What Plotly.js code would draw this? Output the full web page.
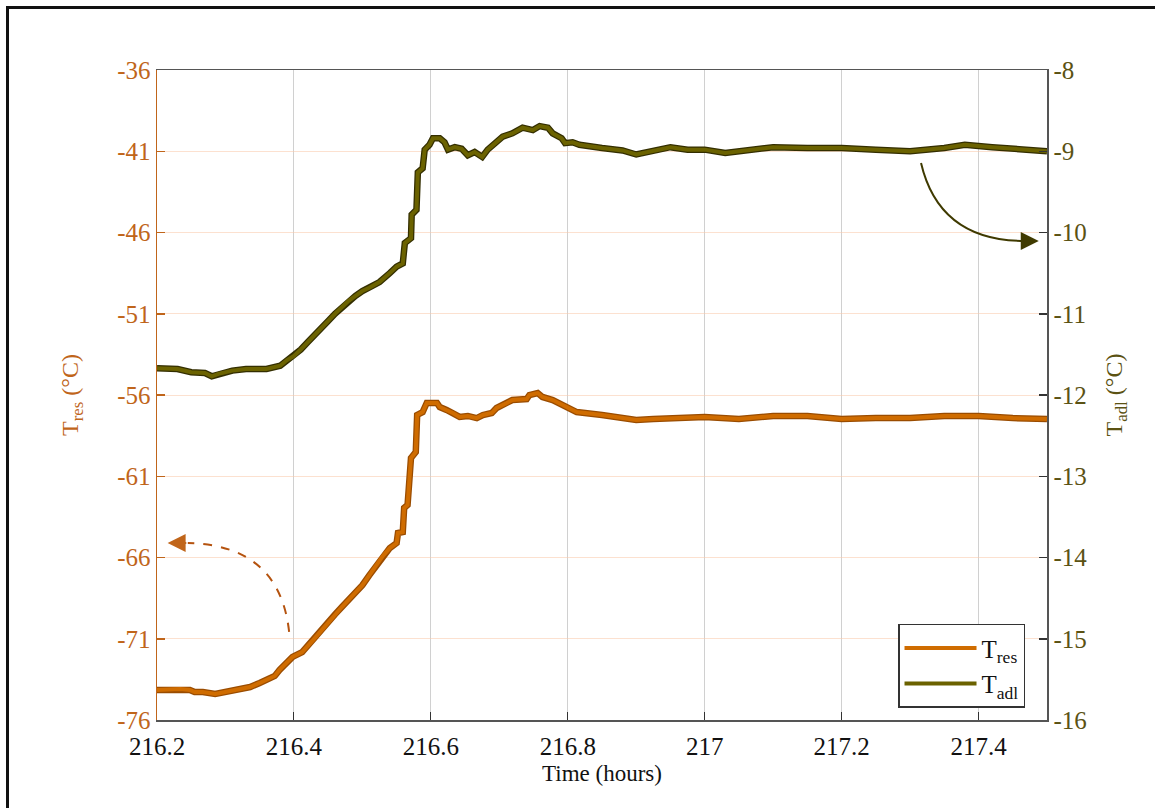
<!DOCTYPE html>
<html>
<head>
<meta charset="utf-8">
<script src="https://cdn.plot.ly/plotly-3.0.1.min.js"></script>
<style>
html,body{margin:0;padding:0;background:#fff;}
#wrap{position:relative;width:1155px;height:808px;}
#frame{position:absolute;left:6px;top:6px;width:1149px;height:802px;border-left:3px solid #111;border-top:3px solid #111;box-sizing:border-box;pointer-events:none;z-index:5;}
#chart{position:absolute;left:0;top:0;width:1155px;height:808px;}
</style>
</head>
<body>
<div id="wrap"><div id="chart"></div><div id="frame"></div></div>
<script>
// ---- data ----
const tresTime = [216.200,216.234,216.248,216.255,216.267,216.285,216.307,216.321,216.336,216.350,216.360,216.372,216.379,216.390,216.398,216.412,216.423,216.428,216.440,216.450,216.460,216.470,216.480,216.490,216.500,216.510,216.520,216.525,216.530,216.540,216.550,216.552,216.559,216.561,216.566,216.571,216.578,216.580,216.588,216.594,216.609,216.613,216.623,216.632,216.642,216.654,216.667,216.676,216.689,216.696,216.711,216.719,216.740,216.744,216.756,216.763,216.778,216.792,216.803,216.813,216.850,216.880,216.900,216.925,216.950,216.975,217.000,217.050,217.100,217.150,217.200,217.250,217.300,217.350,217.400,217.450,217.500];
const tresVal = [-74.15,-74.09,-74.15,-74.28,-74.28,-74.40,-74.22,-74.09,-73.97,-73.72,-73.54,-73.29,-72.92,-72.49,-72.12,-71.82,-71.26,-71.08,-70.50,-70.00,-69.50,-69.05,-68.60,-68.15,-67.70,-67.10,-66.50,-66.15,-65.90,-65.42,-65.11,-64.49,-64.43,-62.95,-62.77,-59.88,-59.51,-57.23,-57.05,-56.49,-56.49,-56.74,-56.92,-57.11,-57.35,-57.29,-57.42,-57.23,-57.11,-56.80,-56.49,-56.31,-56.25,-56.00,-55.88,-56.12,-56.31,-56.62,-56.80,-57.05,-57.23,-57.45,-57.54,-57.48,-57.42,-57.38,-57.35,-57.48,-57.29,-57.29,-57.48,-57.42,-57.42,-57.29,-57.29,-57.42,-57.48];

const tadlTime = [216.200,216.230,216.250,216.270,216.280,216.290,216.310,216.330,216.360,216.380,216.390,216.400,216.410,216.420,216.430,216.440,216.450,216.460,216.470,216.480,216.490,216.500,216.510,216.525,216.540,216.550,216.559,216.562,216.571,216.572,216.579,216.581,216.588,216.591,216.598,216.603,216.613,216.620,216.625,216.635,216.645,216.654,216.664,216.675,216.683,216.693,216.705,216.719,216.734,216.749,216.759,216.771,216.778,216.791,216.796,216.807,216.817,216.850,216.880,216.900,216.925,216.950,216.975,217.000,217.030,217.050,217.100,217.150,217.200,217.250,217.300,217.350,217.380,217.420,217.450,217.500];
const tadlVal = [-11.67,-11.68,-11.72,-11.73,-11.77,-11.74,-11.70,-11.68,-11.68,-11.64,-11.57,-11.52,-11.44,-11.35,-11.27,-11.18,-11.09,-11.00,-10.92,-10.84,-10.78,-10.72,-10.68,-10.61,-10.50,-10.42,-10.38,-10.13,-10.07,-9.78,-9.72,-9.26,-9.21,-8.98,-8.92,-8.84,-8.84,-8.89,-8.98,-8.95,-8.97,-9.05,-9.01,-9.07,-8.98,-8.90,-8.82,-8.78,-8.71,-8.74,-8.69,-8.71,-8.78,-8.84,-8.90,-8.89,-8.92,-8.96,-8.99,-9.04,-9.00,-8.95,-8.98,-8.98,-9.02,-9.00,-8.95,-8.96,-8.96,-8.98,-9.00,-8.96,-8.92,-8.95,-8.97,-9.00];

const xTicks = [216.2,216.4,216.6,216.8,217,217.2,217.4];
const xTickText = ['216.2','216.4','216.6','216.8','217','217.2','217.4'];
const leftTicks = [-36,-41,-46,-51,-56,-61,-66,-71,-76];
const rightTicks = [-8,-9,-10,-11,-12,-13,-14,-15,-16];

// ---- styling ----
const ORANGE = '#cf6c00', ORANGE_EDGE = '#9a4c00';
const OLIVE = '#6b6200', OLIVE_EDGE = '#332e00';
const AXIS_OR = '#c0651a', AXIS_OL = '#5b5213';
const FONT = 'Liberation Serif, Times New Roman, serif';
const FS = 25;

const traces = [
  {x: tresTime, y: tresVal, type:'scatter', mode:'lines', yaxis:'y', showlegend:false, hoverinfo:'skip',
   line:{color:ORANGE_EDGE, width:6.5}},
  {x: tresTime, y: tresVal, type:'scatter', mode:'lines', yaxis:'y', name:'T<sub>res</sub>',
   line:{color:ORANGE, width:4}},
  {x: tadlTime, y: tadlVal, type:'scatter', mode:'lines', yaxis:'y2', showlegend:false, hoverinfo:'skip',
   line:{color:OLIVE_EDGE, width:6.5}},
  {x: tadlTime, y: tadlVal, type:'scatter', mode:'lines', yaxis:'y2', name:'T<sub>adl</sub>',
   line:{color:OLIVE, width:4}}
];

const layout = {
  width:1155, height:808,
  margin:{l:157, r:108, t:70, b:88},
  paper_bgcolor:'#fff', plot_bgcolor:'#fff',
  font:{family:FONT, size:FS, color:'#111'},
  showlegend:true,
  legend:{x:0.8326, y:0.148, xanchor:'left', yanchor:'top', bgcolor:'#fff',
          bordercolor:'#333', borderwidth:1.5, font:{family:FONT, size:25, color:'#111'},
          itemwidth:72, tracegroupgap:0},
  xaxis:{range:[216.2,217.5], tickvals:xTicks, ticktext:xTickText,
         showgrid:true, gridcolor:'#d0d0d0', gridwidth:1, zeroline:false,
         showline:true, linecolor:'#555', linewidth:1.5, mirror:true,
         ticks:'inside', ticklen:8, tickcolor:'#333', tickwidth:1,
         ticklabelstandoff:3,
         tickfont:{family:FONT, size:FS, color:'#111'},
         title:{text:'Time (hours)', font:{family:FONT, size:23, color:'#111'}, standoff:6}},
  yaxis:{range:[-76,-36], tickvals:leftTicks, ticktext:leftTicks.map(String),
         showgrid:true, gridcolor:'rgba(250,200,170,0.55)', gridwidth:1, zeroline:false,
         showline:true, linecolor:AXIS_OR, linewidth:1.5,
         ticks:'inside', ticklen:8, tickcolor:AXIS_OR, tickwidth:1.5,
         tickfont:{family:FONT, size:FS, color:AXIS_OR},
         title:{text:'T<sub>res</sub> (°C)', font:{family:FONT, size:24, color:AXIS_OR}, standoff:32}},
  yaxis2:{range:[-16,-8], overlaying:'y', side:'right', tickvals:rightTicks, ticktext:rightTicks.map(String),
         showgrid:false, zeroline:false,
         showline:true, linecolor:'#555', linewidth:1.5,
         ticks:'inside', ticklen:8, tickcolor:'#333', tickwidth:1.5,
         tickfont:{family:FONT, size:FS, color:AXIS_OL},
         title:{text:'T<sub>adl</sub> (°C)', font:{family:FONT, size:24, color:AXIS_OL}, standoff:19}},
  shapes:[
    {type:'path', xref:'x', yref:'y', path:'M216.393,-70.58 Q216.379,-65.23 216.245,-65.11',
     line:{color:'#b5530f', width:2, dash:'dash'}},
    {type:'path', xref:'x', yref:'y', path:'M217.316,-41.72 Q217.342,-46.40 217.462,-46.52',
     line:{color:'#3f3a00', width:2}}
  ],
  annotations:[
    {x:216.2155, y:-65.11, xref:'x', yref:'y', ax:216.245, ay:-65.11, axref:'x', ayref:'y',
     showarrow:true, arrowhead:2, arrowsize:1.8, arrowwidth:2, arrowcolor:'#c0651a', text:''},
    {x:217.488, y:-46.52, xref:'x', yref:'y', ax:217.458, ay:-46.52, axref:'x', ayref:'y',
     showarrow:true, arrowhead:2, arrowsize:1.8, arrowwidth:2, arrowcolor:'#3f3a00', text:''}
  ]
};

Plotly.newPlot('chart', traces, layout, {displayModeBar:false, staticPlot:true});
</script>
</body>
</html>
